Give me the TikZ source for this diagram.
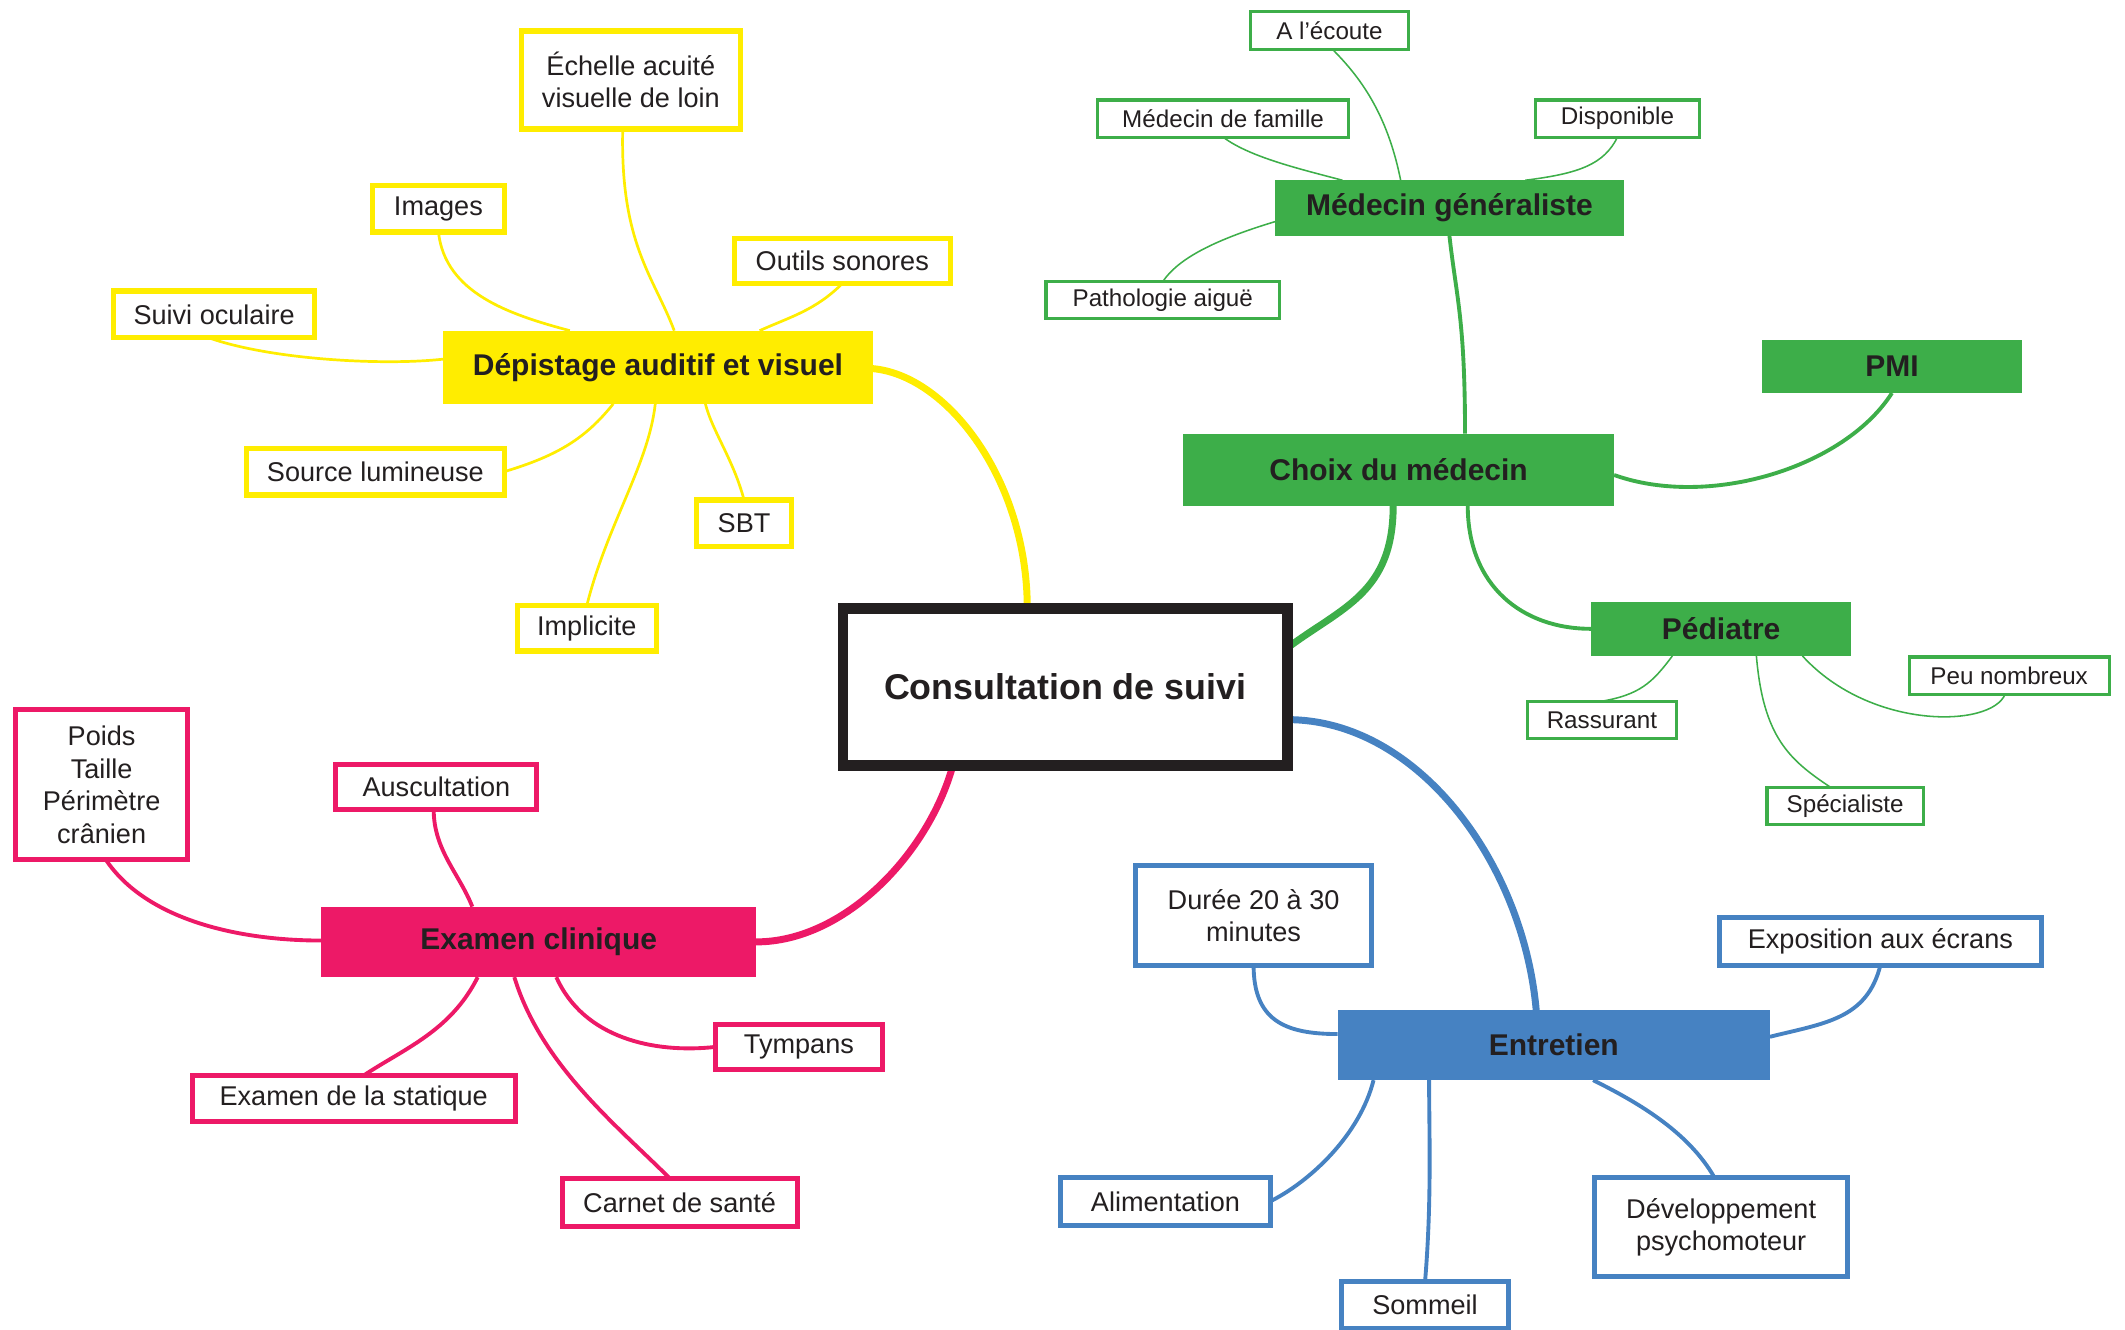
\documentclass[tikz,border=0pt]{standalone}
\usepackage{fontspec}
\setmainfont{Liberation Sans}
\usetikzlibrary{calc}
\pgfdeclarelayer{background}
\pgfsetlayers{background,main}
\definecolor{myyellow}{RGB}{255,237,0}
\definecolor{mypink}{RGB}{237,25,103}
\definecolor{mygreen}{RGB}{61,174,73}
\definecolor{myblue}{RGB}{70,130,194}
\definecolor{ink}{HTML}{231F20}
\tikzset{
  base/.style={rectangle, inner sep=0pt, outer sep=0pt, align=center, text=ink,
    font=\fontsize{14}{16.8}\selectfont},
  dims/.style args={#1/#2}{minimum width=#1*0.7pt-2.5pt, minimum height=#2*0.7pt-2.5pt},
  fdims/.style args={#1/#2}{minimum width=#1*0.7pt, minimum height=#2*0.7pt},
  hubfont/.style={font=\bfseries\fontsize{15.5}{18}\selectfont},
  ybox/.style={base, draw=myyellow, line width=2.8pt, fill=white},
  pbox/.style={base, draw=mypink, line width=2.6pt, fill=white},
  gbox/.style={base, draw=mygreen, line width=1.6pt, fill=white, font=\fontsize{12.5}{15}\selectfont},
  bbox/.style={base, draw=myblue, line width=2.6pt, fill=white},
  yhub/.style={base, fill=myyellow, hubfont},
  phub/.style={base, fill=mypink, hubfont},
  ghub/.style={base, fill=mygreen, hubfont},
  bhub/.style={base, fill=myblue, hubfont},
  ymain/.style={draw=myyellow, line width=3.6pt, line cap=round},
  ysub/.style={draw=myyellow, line width=1.4pt},
  pmain/.style={draw=mypink, line width=3.6pt, line cap=round},
  psub/.style={draw=mypink, line width=2pt},
  gmain/.style={draw=mygreen, line width=3.6pt, line cap=round},
  gmid/.style={draw=mygreen, line width=2pt},
  gsub/.style={draw=mygreen, line width=0.8pt},
  bmain/.style={draw=myblue, line width=3.6pt, line cap=round},
  bsub/.style={draw=myblue, line width=2pt},
}
\begin{document}
\begin{tikzpicture}[x=0.7pt,y=-0.7pt]
\useasboundingbox (0,0) rectangle (1568,981);

% central topic
\node[base, draw=ink, line width=5.5pt, fill=white, minimum width=336*0.7pt-5.5pt,
  minimum height=124*0.7pt-5.5pt, font=\bfseries\fontsize{18.5}{22}\selectfont]
  (cs) at (786,507) {Consultation de suivi};

% hearing and vision screening
\node[yhub, fdims=317/54] (dep) at (485.5,271) {Dépistage auditif et visuel};
\node[ybox, dims=165/76] (ech) at (465.5,59) {Échelle acuité\\visuelle de loin};
\node[ybox, dims=101/38] (img) at (323.5,154) {Images};
\node[ybox, dims=163/37] (outils) at (621.5,192.5) {Outils sonores};
\node[ybox, dims=152/38] (suivi) at (158,232) {Suivi oculaire};
\node[ybox, dims=194/38] (src) at (277,348) {Source lumineuse};
\node[ybox, dims=74/38] (sbt) at (549,386) {SBT};
\node[ybox, dims=106/37] (impl) at (433,463.5) {Implicite};

% clinical examination
\node[phub, fdims=321/52] (exam) at (397.5,695) {Examen clinique};
\node[pbox, dims=130/114] (poids) at (75,579) {Poids\\Taille\\Périmètre\\crânien};
\node[pbox, dims=152/37] (ausc) at (322,580.5) {Auscultation};
\node[pbox, dims=127/37] (tymp) at (589.5,772.5) {Tympans};
\node[pbox, dims=242/37] (stat) at (261,810.5) {Examen de la statique};
\node[pbox, dims=177/39] (carnet) at (501.5,887.5) {Carnet de santé};

% choice of doctor
\node[ghub, fdims=318/53] (choix) at (1032,346.5) {Choix du médecin};
\node[ghub, fdims=257/41] (mg) at (1069.5,153.5) {Médecin généraliste};
\node[ghub, fdims=192/39] (pmi) at (1396,270.5) {PMI};
\node[ghub, fdims=192/40] (ped) at (1270,464) {Pédiatre};
\node[gbox, dims=120/31] (ecoute) at (981,22.5) {A l'écoute};
\node[gbox, dims=189/31] (famille) at (902.5,87.5) {Médecin de famille};
\node[gbox, dims=125/31] (dispo) at (1193.5,87.5) {Disponible};
\node[gbox, dims=176/31] (patho) at (858,221.5) {Pathologie aiguë};
\node[gbox, dims=114/31] (rass) at (1182,531.5) {Rassurant};
\node[gbox, dims=151/31] (peu) at (1482.5,498.5) {Peu nombreux};
\node[gbox, dims=119/31] (spec) at (1361.5,594.5) {Spécialiste};

% interview
\node[bhub, fdims=319/52] (entr) at (1146.5,771) {Entretien};
\node[bbox, dims=178/77] (duree) at (925,675.5) {Durée 20 à 30\\minutes};
\node[bbox, dims=241/39] (expo) at (1387.5,694.5) {Exposition aux écrans};
\node[bbox, dims=158/39] (alim) at (860,886.5) {Alimentation};
\node[bbox, dims=127/38] (somm) at (1051.5,963) {Sommeil};
\node[bbox, dims=190/77] (dev) at (1270,905.5) {Développement\\psychomoteur};

\begin{pgfonlayer}{background}
% main branches
\draw[ymain] ($(dep.east)+(0,1)$) .. controls +(55,5) and +(0,-95) .. ($(cs.north)+(-28,0)$);
\draw[pmain] (exam.east) .. controls +(65,0) and +(-18,65) .. ($(cs.south)+(-83,0)$);
\draw[gmain] ($(choix.south)+(-4,0)$) .. controls +(0,65) and +(40,-30) .. ($(cs.east)+(0,-29)$);
\draw[bmain] ($(cs.east)+(0,24)$) .. controls +(95,0) and +(-10,-110) .. ($(entr.north)+(-13,0)$);

% yellow leaves
\draw[ysub] ($(suivi.south)+(-4,0)$) .. controls +(45,16) and +(-45,5) .. ($(dep.west)+(0,-6)$);
\draw[ysub] (img.south) .. controls +(5,45) and +(-45,-12) .. ($(dep.north)+(-65,0)$);
\draw[ysub] ($(ech.south)+(-6,0)$) .. controls +(-2,85) and +(-15,-40) .. ($(dep.north)+(12,0)$);
\draw[ysub] (outils.south) .. controls +(-20,20) and +(22,-10) .. ($(dep.north)+(75,0)$);
\draw[ysub] (src.east) .. controls +(40,-12) and +(-20,25) .. ($(dep.south)+(-33,0)$);
\draw[ysub] (sbt.north) .. controls +(-8,-30) and +(5,20) .. ($(dep.south)+(35,0)$);
\draw[ysub] (impl.north) .. controls +(15,-60) and +(-5,45) .. ($(dep.south)+(-2,0)$);

% pink leaves
\draw[psub] ($(poids.south)+(3,0)$) .. controls +(30,45) and +(-60,0) .. ($(exam.west)+(0,-1)$);
\draw[psub] ($(ausc.south)+(-2,0)$) .. controls +(0,30) and +(-10,-25) .. ($(exam.north)+(-49,0)$);
\draw[psub] ($(exam.south)+(13,0)$) .. controls +(20,45) and +(-45,5) .. (tymp.west);
\draw[psub] ($(exam.south)+(-45,0)$) .. controls +(-20,40) and +(30,-20) .. ($(stat.north)+(7,0)$);
\draw[psub] ($(exam.south)+(-18,0)$) .. controls +(20,65) and +(-40,-40) .. ($(carnet.north)+(-7,0)$);

% green branches
\draw[gmid] ($(choix.north)+(49,0)$) .. controls +(0,-85) and +(5,45) .. (mg.south);
\draw[gmid] ($(choix.east)+(0,4)$) .. controls +(70,25) and +(-35,55) .. (pmi.south);
\draw[gmid] ($(choix.south)+(51,0)$) .. controls +(0,60) and +(-50,0) .. (ped.west);
\draw[gsub] ($(mg.north)+(-36,0)$) .. controls +(-10,-50) and +(20,20) .. ($(ecoute.south)+(2,0)$);
\draw[gsub] ($(mg.north)+(-79,0)$) .. controls +(-30,-8) and +(20,15) .. (famille.south);
\draw[gsub] ($(mg.north)+(56,0)$) .. controls +(40,-5) and +(-10,20) .. (dispo.south);
\draw[gsub] ($(mg.west)+(0,10)$) .. controls +(-50,15) and +(10,-15) .. (patho.north);
\draw[gsub] ($(ped.south)+(-36,0)$) .. controls +(-15,20) and +(30,-5) .. ($(rass.north)+(-2,0)$);
\draw[gsub] ($(ped.south)+(26,0)$) .. controls +(5,60) and +(-30,-20) .. ($(spec.north)+(-11,0)$);
\draw[gsub] ($(ped.south)+(60,0)$) .. controls +(50,55) and +(-10,25) .. ($(peu.south)+(-3,0)$);

% blue leaves
\draw[bsub] (duree.south) .. controls +(0,40) and +(-40,0) .. ($(entr.west)+(0,-8)$);
\draw[bsub] (expo.south) .. controls +(-10,40) and +(40,-10) .. ($(entr.east)+(0,-6)$);
\draw[bsub] (alim.east) .. controls +(30,-15) and +(-10,40) .. ($(entr.south)+(-133,0)$);
\draw[bsub] (somm.north) .. controls +(5,-60) and +(0,40) .. ($(entr.south)+(-92,0)$);
\draw[bsub] ($(dev.north)+(-5,0)$) .. controls +(-20,-35) and +(30,15) .. ($(entr.south)+(29,0)$);
\end{pgfonlayer}
\end{tikzpicture}
\end{document}
